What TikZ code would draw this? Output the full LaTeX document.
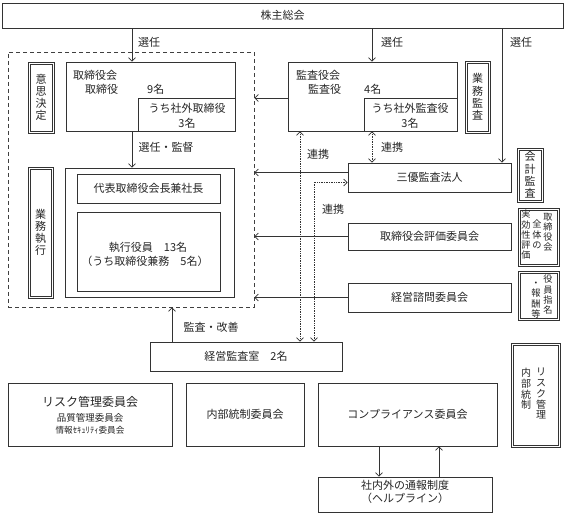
\documentclass[tikz,border=0pt]{standalone}
\usepackage{fontspec}
\setmainfont{Noto Sans CJK JP}
\usetikzlibrary{arrows.meta,fit,calc}
\newcommand{\innerframe}[1]{\draw[draw=black!80, line width=0.6pt] ([shift={(2.2pt,-2.2pt)}]#1.north west) rectangle ([shift={(-2.2pt,2.2pt)}]#1.south east);}
\begin{document}
\begin{tikzpicture}[x=1pt,y=-1pt,
  box/.style={draw=black!80, line width=0.7pt, inner sep=0pt},
  dbox/.style={draw=black!80, line width=0.6pt, inner sep=0pt},
  grpbox/.style={draw=black!75, line width=0.7pt, dash pattern=on 4pt off 3pt, inner sep=0pt},
  txt/.style={font=\fontsize{11}{13}\selectfont, inner sep=0pt, text=black!85},
  stxt/.style={font=\fontsize{9.5}{11}\selectfont, inner sep=0pt, text=black!85},
  vtxt/.style={font=\fontsize{11}{12.2}\selectfont, align=center, inner sep=0pt, text=black!85},
  svtxt/.style={font=\fontsize{9.2}{10.2}\selectfont, align=center, inner sep=0pt, text=black!85, anchor=north},
  arr/.style={draw=black!80, line width=0.7pt, -{Straight Barb[length=3.5pt,width=7pt]}},
  darr/.style={draw=black!80, line width=0.7pt, densely dotted, {Straight Barb[length=3.5pt,width=7pt]}-{Straight Barb[length=3.5pt,width=7pt]}}
]
\fill[white] (0,0) rectangle (566,513);
\useasboundingbox (0,0) rectangle (566,513);

% x positions for connectors
\coordinate (xA) at (132,0);
\coordinate (xB) at (372,0);
\coordinate (xC) at (502,0);
\coordinate (xD) at (172,0);
\coordinate (xE) at (300,0);
\coordinate (xF) at (314,0);
\coordinate (xG) at (379,0);
\coordinate (xH) at (439,0);

% boxes
\node[box, fit={(2,3)(563,28)}] (top) {};
\node[txt] (ttop) at (top.center) {株主総会};

\node[grpbox, fit={(8,52)(254,307)}] (grp) {};

\node[box, fit={(66,62)(235,131)}] (board) {};
\node[box, fit={(138,98)(235,131)}] (boardsub) {};
\node[txt, anchor=west] (tb1) at (73,75) {取締役会};
\node[txt, anchor=west] (tb2) at (85,89) {取締役};
\node[txt, anchor=west] (tb3) at (147,89) {9名};
\node[txt] (tb4) at (187,108) {うち社外取締役};
\node[txt] (tb5) at (187,123) {3名};

\node[dbox, fit={(28,62)(54,133)}] (ishi) {};
\innerframe{ishi}
\node[vtxt] (tishi) at (ishi.center) {意\\思\\決\\定};

\node[box, fit={(65,168)(234,297)}] (exec) {};
\node[box, fit={(77,174)(220,203)}] (pres) {};
\node[txt] (tpres) at (pres.center) {代表取締役会長兼社長};
\node[box, fit={(77,212)(220,291)}] (officers) {};
\node[txt] (toff1) at (148,247) {執行役員　13名};
\node[txt] (toff2) at (145,261) {（うち取締役兼務　5名）};

\node[dbox, fit={(28,167)(53,298)}] (gyomu) {};
\innerframe{gyomu}
\node[vtxt] (tgyomu) at (gyomu.center) {業\\務\\執\\行};

\node[box, fit={(288,62)(457,131)}] (auditor) {};
\node[box, fit={(364,98)(457,131)}] (auditsub) {};
\node[txt, anchor=west] (ta1) at (296,75) {監査役会};
\node[txt, anchor=west] (ta2) at (308,89) {監査役};
\node[txt, anchor=west] (ta3) at (364,89) {4名};
\node[txt] (ta4) at (410,108) {うち社外監査役};
\node[txt] (ta5) at (410,123) {3名};

\node[dbox, fit={(465,61)(490,133)}] (gkansa) {};
\innerframe{gkansa}
\node[vtxt] (tgkansa) at (gkansa.center) {業\\務\\監\\査};

\node[box, fit={(348,163)(511,192)}] (sanyu) {};
\node[txt] (tsanyu) at (sanyu.center) {三優監査法人};
\node[box, fit={(348,223)(511,250)}] (hyoka) {};
\node[txt] (thyoka) at (hyoka.center) {取締役会評価委員会};
\node[box, fit={(348,283)(511,312)}] (shimon) {};
\node[txt] (tshimon) at (shimon.center) {経営諮問委員会};

\node[dbox, fit={(517,148)(543,202)}] (kaikei) {};
\innerframe{kaikei}
\node[vtxt] (tkaikei) at (kaikei.center) {会\\計\\監\\査};

\node[dbox, fit={(518,208)(559,266)}] (zentai) {};
\innerframe{zentai}
\node[svtxt] (tz1) at (548,213) {取\\締\\役\\会};
\node[svtxt] (tz2) at (537,220) {全\\体\\の};
\node[svtxt] (tz3) at (526,210) {実\\効\\性\\評\\価};

\node[dbox, fit={(518,271)(559,320)}] (yakuin) {};
\innerframe{yakuin}
\node[svtxt] (ty1) at (548,275) {役\\員\\指\\名};
\node[svtxt] (ty2) at (536,282) {・\\報\\酬\\等};

\node[box, fit={(150,342)(342,371)}] (room) {};
\node[txt] (troom) at (room.center) {経営監査室　2名};

\node[box, fit={(8,383)(172,446)}] (risk) {};
\node[font=\fontsize{12}{14}\selectfont, inner sep=0pt, text=black!85] (trisk1) at (90,402) {リスク管理委員会};
\node[stxt] (trisk2) at (90,418) {品質管理委員会};
\node[font=\fontsize{8.6}{10}\selectfont, inner sep=0pt, text=black!85] (trisk3) at (90,430) {情報ｾｷｭﾘﾃｨ委員会};

\node[box, fit={(186,383)(304,446)}] (naibu) {};
\node[txt] (tnaibu) at (naibu.center) {内部統制委員会};

\node[box, fit={(318,383)(497,446)}] (comp) {};
\node[txt] (tcomp) at (comp.center) {コンプライアンス委員会};

\node[box, fit={(318,477)(492,512)}] (help) {};
\node[txt] (thelp1) at (405,485) {社内外の通報制度};
\node[txt] (thelp2) at (405,498) {（ヘルプライン）};

\node[dbox, fit={(511,343)(560,447)}] (rv) {};
\innerframe{rv}
\node[font=\fontsize{10}{10.8}\selectfont, align=center, inner sep=0pt, text=black!85, anchor=north] (trv1) at (541,368) {リ\\ス\\ク\\管\\理};
\node[font=\fontsize{10}{10.8}\selectfont, align=center, inner sep=0pt, text=black!85, anchor=north] (trv2) at (526,368) {内\\部\\統\\制};

% connectors
\draw[arr] (top.south -| xA) -- (board.north -| xA);
\node[txt] (l1) at (149,42) {選任};
\draw[arr] (top.south -| xB) -- (auditor.north -| xB);
\node[txt] (l2) at (392,42) {選任};
\draw[arr] (top.south -| xC) -- (sanyu.north -| xC);
\node[txt] (l3) at (521,42) {選任};
\draw[arr] (board.south -| xA) -- (exec.north -| xA);
\node[txt] (l4) at (166,147) {選任・監督};

\draw[arr] ([yshift=-1.5pt]auditor.west) -- ([yshift=-1.5pt]auditor.west -| grp.east);
\draw[arr] ([yshift=5pt]sanyu.west) -- ([yshift=5pt]sanyu.west -| grp.east);
\draw[arr] (hyoka.west) -- (hyoka.west -| grp.east);
\draw[arr] (shimon.west) -- (shimon.west -| grp.east);

\draw[arr] (room.north -| xD) -- (grp.south -| xD);
\node[txt] (l5) at (211,327) {監査・改善};

\draw[darr] (auditor.south -| xE) -- (room.north -| xE);
\node[txt] (l6) at (318,154) {連携};
\draw[darr] (auditor.south -| xB) -- (sanyu.north -| xB);
\node[txt] (l7) at (392,147) {連携};
\draw[darr] (room.north -| xF) |- ([yshift=-5pt]sanyu.west);
\node[txt] (l8) at (333,209) {連携};

\draw[arr] (comp.south -| xG) -- (help.north -| xG);
\draw[arr] (help.north -| xH) -- (comp.south -| xH);
\end{tikzpicture}
\end{document}
